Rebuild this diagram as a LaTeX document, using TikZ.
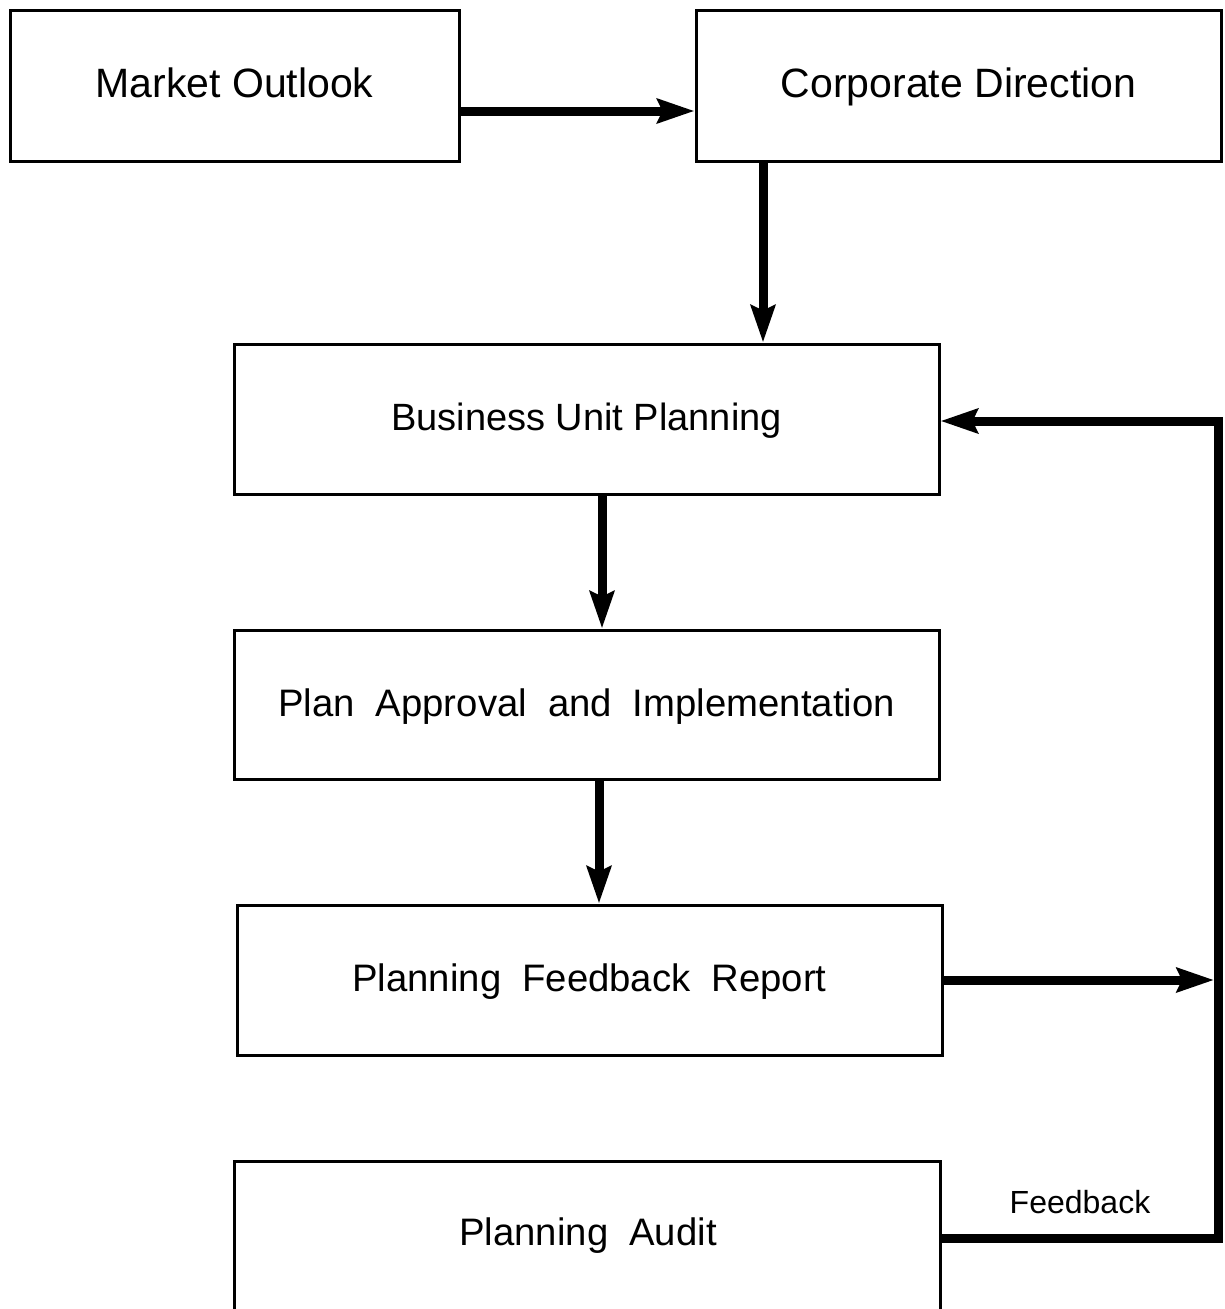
\documentclass[tikz,border=0pt]{standalone}
\usepackage{fontspec}
\setmainfont{Liberation Sans}
\usetikzlibrary{arrows.meta}
\begin{document}
\begin{tikzpicture}[x=1pt,y=-1pt,
  box/.style={draw, line width=3pt, rectangle, inner sep=0pt, text height=30pt, text depth=7pt},
  topfont/.style={font=\fontsize{41}{48}\selectfont},
  midfont/.style={font=\fontsize{38.3}{45}\selectfont, execute at begin node={\spaceskip=0.55em plus 0pt minus 0pt\relax}},
  bupfont/.style={font=\fontsize{38}{45}\selectfont},
  arr/.style={line width=9pt, -{Stealth[length=37pt,width=24pt,inset=5pt]}},
  fb/.style={line width=9pt, line join=miter}]
\useasboundingbox (0,0) rectangle (1225,1309);
\clip (0,0) rectangle (1225,1309);
\node[box, topfont, minimum width=449pt, minimum height=151pt] (mo) at (234.5,85.5) {Market Outlook};
\node[box, topfont, minimum width=525pt, minimum height=151pt] (cd) at (958.5,85.5) {Corporate Direction};
\node[box, bupfont, minimum width=705pt, minimum height=150pt] (bup) at (586.5,419) {Business Unit Planning};
\node[box, midfont, minimum width=705pt, minimum height=149pt] (pa) at (586.5,704.5) {Plan Approval and Implementation};
\node[box, midfont, minimum width=705pt, minimum height=150pt] (pfr) at (589.5,980) {Planning Feedback Report};
\node[box, minimum width=706pt, minimum height=180pt] (audit) at (587,1251) {};
\node[midfont] (audittext) at (588,1236) {Planning Audit};
\node[font=\fontsize{32}{38}\selectfont] (fblabel) at (1080,1202) {Feedback};
\coordinate (fbtop) at (1218,421);
\coordinate (fbbot) at (1218,1238);
\coordinate (fbmid) at (1218,980);
% connectors
\draw[arr] ([yshift=-25.5pt]mo.east) -- ([yshift=-25.5pt]cd.west);
\draw[arr] ([xshift=-195.5pt]cd.south) -- ([xshift=-195.5pt]cd.south |- bup.north);
\draw[arr] ([xshift=15.5pt]bup.south) -- ([xshift=15.5pt]bup.south |- pa.north);
\draw[arr] ([xshift=12.5pt]pa.south) -- ([xshift=12.5pt]pa.south |- pfr.north);
\draw[arr] (pfr.east) -- ([xshift=-4pt]fbmid);
\draw[fb] (audit.east |- fbbot) -- (fbbot) -- (fbtop) -- ([xshift=20pt]bup.east |- fbtop);
\draw[arr] (fbtop) -- (bup.east |- fbtop);
\end{tikzpicture}
\end{document}
